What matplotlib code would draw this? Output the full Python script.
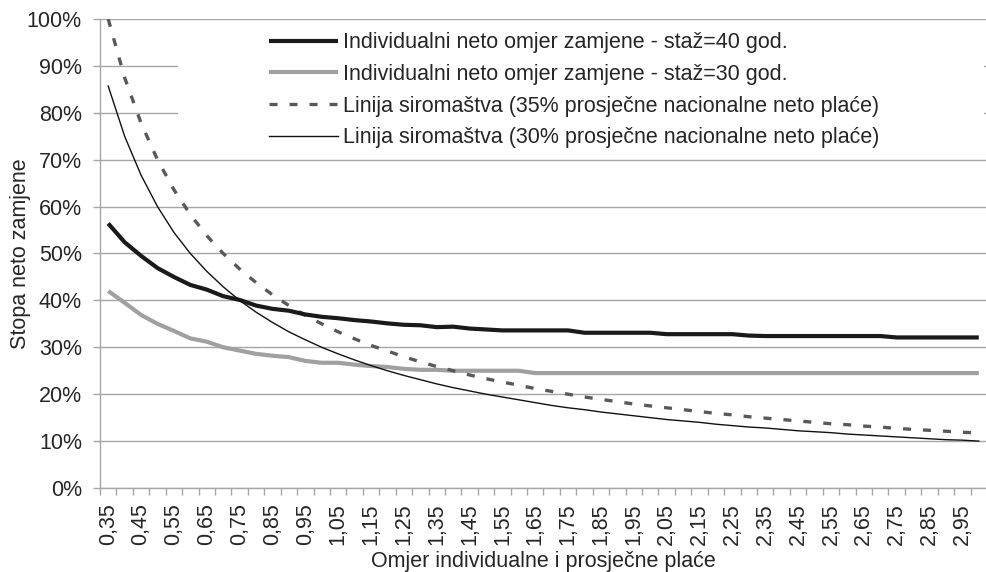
import matplotlib
matplotlib.use("Agg")
import matplotlib.pyplot as plt
from matplotlib.patches import Rectangle
from matplotlib.ticker import FixedLocator, FuncFormatter

plt.rcParams["font.family"] = ["Liberation Sans", "DejaVu Sans"]

# omjer individualne i prosjecne place (kategorije)
omjer = [0.35, 0.40, 0.45, 0.50, 0.55, 0.60, 0.65, 0.70, 0.75, 0.80,
         0.85, 0.90, 0.95, 1.00, 1.05, 1.10, 1.15, 1.20, 1.25, 1.30,
         1.35, 1.40, 1.45, 1.50, 1.55, 1.60, 1.65, 1.70, 1.75, 1.80,
         1.85, 1.90, 1.95, 2.00, 2.05, 2.10, 2.15, 2.20, 2.25, 2.30,
         2.35, 2.40, 2.45, 2.50, 2.55, 2.60, 2.65, 2.70, 2.75, 2.80,
         2.85, 2.90, 2.95, 3.00]

# vrijednosti u %
staz40 = [56.4, 52.4, 49.5, 46.9, 45.0, 43.3, 42.3, 40.9, 40.1, 38.9,
          38.2, 37.8, 37.0, 36.5, 36.2, 35.8, 35.5, 35.1, 34.8, 34.7,
          34.3, 34.4, 34.0, 33.8, 33.6, 33.6, 33.6, 33.6, 33.6, 33.1,
          33.1, 33.1, 33.1, 33.1, 32.8, 32.8, 32.8, 32.8, 32.8, 32.5,
          32.4, 32.4, 32.4, 32.4, 32.4, 32.4, 32.4, 32.4, 32.1, 32.1,
          32.1, 32.1, 32.1, 32.1]
staz30 = [42.0, 39.5, 36.9, 35.0, 33.5, 31.9, 31.2, 30.0, 29.3, 28.6,
          28.2, 27.9, 27.1, 26.7, 26.7, 26.3, 26.0, 25.8, 25.4, 25.2,
          25.2, 25.0, 25.0, 25.0, 25.0, 25.0, 24.5, 24.5, 24.5, 24.5,
          24.5, 24.5, 24.5, 24.5, 24.5, 24.5, 24.5, 24.5, 24.5, 24.5,
          24.5, 24.5, 24.5, 24.5, 24.5, 24.5, 24.5, 24.5, 24.5, 24.5,
          24.5, 24.5, 24.5, 24.5]
siromastvo35 = [100.0, 87.5, 77.8, 70.0, 63.6, 58.3, 53.8, 50.0, 46.7, 43.8,
                41.2, 38.9, 36.8, 35.0, 33.3, 31.8, 30.4, 29.2, 28.0, 26.9,
                25.9, 25.0, 24.1, 23.3, 22.6, 21.9, 21.2, 20.6, 20.0, 19.4,
                18.9, 18.4, 17.9, 17.5, 17.1, 16.7, 16.3, 15.9, 15.6, 15.2,
                14.9, 14.6, 14.3, 14.0, 13.7, 13.5, 13.2, 13.0, 12.7, 12.5,
                12.3, 12.1, 11.9, 11.7]
siromastvo30 = [85.7, 75.0, 66.7, 60.0, 54.5, 50.0, 46.2, 42.9, 40.0, 37.5,
                35.3, 33.3, 31.6, 30.0, 28.6, 27.3, 26.1, 25.0, 24.0, 23.1,
                22.2, 21.4, 20.7, 20.0, 19.4, 18.8, 18.2, 17.6, 17.1, 16.7,
                16.2, 15.8, 15.4, 15.0, 14.6, 14.3, 14.0, 13.6, 13.3, 13.0,
                12.8, 12.5, 12.2, 12.0, 11.8, 11.5, 11.3, 11.1, 10.9, 10.7,
                10.5, 10.3, 10.2, 10.0]

labels = ["Individualni neto omjer zamjene - staž=40 god.",
          "Individualni neto omjer zamjene - staž=30 god.",
          "Linija siromaštva (35% prosječne nacionalne neto plaće)",
          "Linija siromaštva (30% prosječne nacionalne neto plaće)"]

grid_col = "#a6a6a6"
txt_col = "#262626"
fs = 15.5

fig = plt.figure(figsize=(9.86, 5.72), dpi=100)
ax = fig.add_axes([100 / 986, 1 - 488 / 572, 887 / 986, 469 / 572])

x = list(range(len(omjer)))
ax.plot(x, staz40, color="#1a1a1a", lw=3.0, label=labels[0], zorder=4,
        solid_joinstyle="round", solid_capstyle="butt")
ax.plot(x, staz30, color="#a0a0a0", lw=3.0, label=labels[1], zorder=3,
        solid_joinstyle="round", solid_capstyle="butt")
ax.plot(x, siromastvo35, color="#595959", lw=2.4, dashes=(2.4, 3.6),
        label=labels[2], zorder=3)
ax.plot(x, siromastvo30, color="#111111", lw=1.0, label=labels[3], zorder=4)

ax.set_xlim(-0.5, len(omjer) - 0.5)
ax.set_ylim(0, 100)

# y os
ax.set_yticks(range(0, 101, 10))
ax.yaxis.set_major_formatter(FuncFormatter(lambda v, p: f"{int(v)}%"))
ax.yaxis.grid(True, color=grid_col, lw=1.0)
ax.set_axisbelow(True)

# x os: crtice izmedu kategorija, oznake na svakoj drugoj
ax.xaxis.set_major_locator(FixedLocator([i - 0.5 for i in range(len(omjer) + 1)]))
ax.xaxis.set_major_formatter(FuncFormatter(lambda v, p: ""))
ax.xaxis.set_minor_locator(FixedLocator(x[::2]))
ax.xaxis.set_minor_formatter(FuncFormatter(
    lambda v, p: f"{omjer[int(round(v))]:.2f}".replace(".", ",")))
ax.tick_params(axis="x", which="major", length=5, color=grid_col, width=1)
ax.tick_params(axis="x", which="minor", length=0, labelsize=fs,
               labelrotation=90, pad=11, labelcolor=txt_col)
ax.tick_params(axis="y", length=5, color=grid_col, width=1, labelsize=fs,
               labelcolor=txt_col, pad=8)

for s in ["top", "right"]:
    ax.spines[s].set_visible(False)
for s in ["left", "bottom"]:
    ax.spines[s].set_color(grid_col)
    ax.spines[s].set_linewidth(1.0)

ax.set_xlabel("Omjer individualne i prosječne plaće", fontsize=fs,
              color=txt_col, labelpad=4)
ax.set_ylabel("Stopa neto zamjene", fontsize=fs, color=txt_col,
              labelpad=-3)

# bijela podloga legende
ax.add_patch(Rectangle((78 / 887, (488 - 150) / 469), 806 / 887, 125 / 469,
                       transform=ax.transAxes, facecolor="white",
                       edgecolor="none", zorder=2))
leg = ax.legend(loc="upper left", bbox_to_anchor=(0.19, 0.972),
                frameon=False, fontsize=fs, handlelength=3.25,
                handletextpad=0.23, labelspacing=0.5, borderpad=0,
                borderaxespad=0)
for t in leg.get_texts():
    t.set_color(txt_col)

fig.savefig("out.png", dpi=100)
